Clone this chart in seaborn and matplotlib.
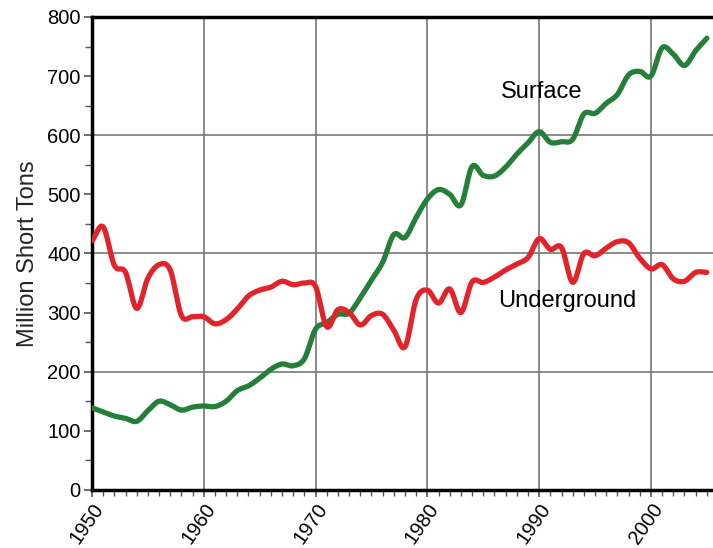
import numpy as np
import pandas as pd
import matplotlib
matplotlib.use("Agg")
import matplotlib.pyplot as plt
import seaborn as sns
from matplotlib.ticker import MultipleLocator

years = list(range(1950, 2006))
surface = [139, 132, 125, 121, 116, 134, 150, 144, 135, 140,
           142, 141, 150, 168, 176, 189, 204, 213, 210, 222,
           272, 283, 297, 299, 325, 355, 385, 432, 427, 461,
           492, 508, 500, 482, 547, 532, 531, 546, 568, 587,
           606, 588, 589, 593, 636, 637, 654, 669, 702, 708,
           700, 748, 737, 718, 743, 764]
underground = [421, 445, 380, 368, 307, 358, 381, 372, 295, 293,
               293, 281, 288, 306, 328, 338, 343, 353, 347, 350,
               344, 276, 305, 300, 279, 295, 297, 270, 242, 322,
               338, 316, 340, 300, 352, 351, 360, 372, 382, 393,
               425, 407, 410, 351, 400, 396, 409, 420, 418, 392,
               374, 381, 357, 353, 368, 368]
series_names = ["Surface", "Underground"]
y_ticks = [0, 100, 200, 300, 400, 500, 600, 700, 800]
x_ticks = [1950, 1960, 1970, 1980, 1990, 2000]


def smooth(x, y, n=12):
    x = np.asarray(x, float)
    y = np.asarray(y, float)
    xp = np.concatenate([[2 * x[0] - x[1]], x, [2 * x[-1] - x[-2]]])
    yp = np.concatenate([[2 * y[0] - y[1]], y, [2 * y[-1] - y[-2]]])
    xs, ys = [], []
    t = np.linspace(0, 1, n, endpoint=False)
    for i in range(1, len(xp) - 2):
        p0, p1, p2, p3 = yp[i - 1], yp[i], yp[i + 1], yp[i + 2]
        seg = 0.5 * ((2 * p1) + (-p0 + p2) * t + (2 * p0 - 5 * p1 + 4 * p2 - p3) * t ** 2
                     + (-p0 + 3 * p1 - 3 * p2 + p3) * t ** 3)
        xs.extend(xp[i] + t * (xp[i + 1] - xp[i]))
        ys.extend(seg)
    xs.append(x[-1])
    ys.append(y[-1])
    return np.array(xs), np.array(ys)


frames = []
for name, vals in zip(series_names, [surface, underground]):
    sx, sy = smooth(years, vals)
    frames.append(pd.DataFrame({"year": sx, "value": sy, "type": name}))
df = pd.concat(frames, ignore_index=True)

sns.set_theme(style="white")
plt.rcParams["font.family"] = ["Liberation Sans", "DejaVu Sans"]

fig = plt.figure(figsize=(7.13, 5.48), dpi=100)
ax = fig.add_axes([0.129, 0.106, 0.871, 0.863])

for v in [200, 400, 600]:
    ax.axhline(v, color="#777777", lw=1.2, zorder=1)
for v in x_ticks[1:]:
    ax.axvline(v, color="#777777", lw=1.2, zorder=1)

sns.lineplot(data=df, x="year", y="value", hue="type",
             palette={"Surface": "#248038", "Underground": "#E2242A"},
             linewidth=3.8, legend=False, ax=ax, zorder=3, sort=False,
             estimator=None)

ax.set_xlim(1950, 2005.55)
ax.set_ylim(0, 800)
ax.set_yticks(y_ticks)
ax.set_yticklabels([str(v) for v in y_ticks])
ax.yaxis.set_minor_locator(MultipleLocator(50))
ax.set_xticks(x_ticks)
ax.set_xticklabels([str(v) for v in x_ticks], rotation=55, ha="right",
                   rotation_mode="anchor")
ax.xaxis.set_minor_locator(MultipleLocator(1))

ax.tick_params(axis="both", which="both", direction="out", colors="#555555",
               labelcolor="black")
ax.tick_params(axis="y", which="major", length=6, width=1.2, pad=2, labelsize=14.5)
ax.tick_params(axis="y", which="minor", length=5, width=1.0)
ax.tick_params(axis="x", which="major", length=5, width=1.2, pad=2, bottom=True,
               labelsize=14.5)
ax.tick_params(axis="x", which="minor", length=4, width=1.0, bottom=True)
ax.tick_params(axis="y", left=True, which="both")

for s in ["left", "bottom", "top"]:
    ax.spines[s].set_color("black")
    ax.spines[s].set_linewidth(2.5)
ax.spines["right"].set_visible(False)

ax.set_xlabel("")
ax.set_ylabel("Million Short Tons", fontsize=17, labelpad=6)
ax.grid(False)

ax.text(1990.2, 673, "Surface", fontsize=17, ha="center", va="center", color="black")
ax.text(1992.5, 320, "Underground", fontsize=17, ha="center", va="center", color="black")

fig.savefig("out.png", dpi=100)
